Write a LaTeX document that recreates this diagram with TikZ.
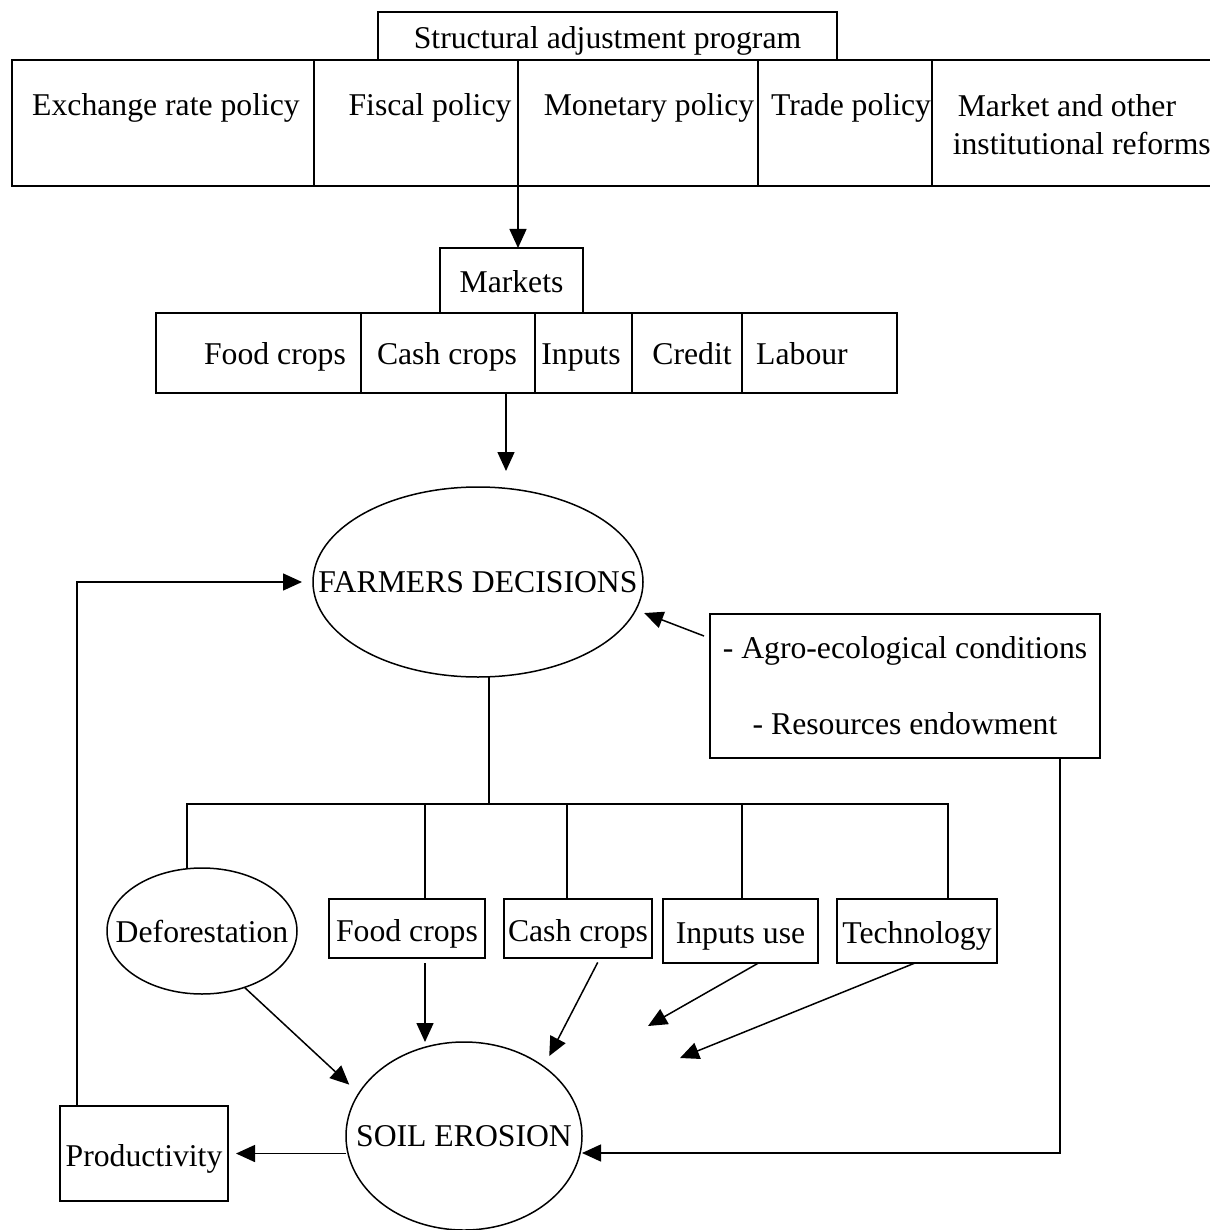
\documentclass[tikz,border=0pt]{standalone}
\usepackage{fontspec}
\setmainfont{Liberation Serif}
\usetikzlibrary{shapes.geometric, arrows.meta}

\tikzset{
  frame/.style={draw, rectangle, inner sep=0pt, outer sep=0pt, text height=29pt, text depth=4pt},
  oval/.style={draw, ellipse, inner sep=0pt, outer sep=0pt},
  txt/.style={inner sep=0pt, text height=29pt, text depth=4pt},
  arr/.style={-{Triangle[length=19pt,width=17pt]}},
}

\begin{document}
\begin{tikzpicture}[x=1pt,y=-1pt,line width=1.5pt,font=\fontsize{31.7}{38}\selectfont]
\useasboundingbox (0,0) rectangle (1209,1230);
% policy row
\node[frame, minimum width=459, minimum height=48] (sap) at (607.5,36) {Structural adjustment program};
\node[frame, minimum width=302, minimum height=126] (exr) at (163,123) {};
\node[frame, minimum width=204, minimum height=126] (fis) at (416,123) {};
\node[frame, minimum width=240, minimum height=126] (mon) at (638,123) {};
\node[frame, minimum width=174, minimum height=126] (trd) at (845,123) {};
\node[frame, minimum width=300, minimum height=126] (mkr) at (1082,123) {};
\node[txt] (exrt) at (166,103.5) {Exchange rate policy};
\node[txt] (fist) at (430,103.5) {Fiscal policy};
\node[txt] (mont) at (649,103.5) {Monetary policy};
\node[txt] (trdt) at (851,103.5) {Trade policy};
\node[inner sep=0pt, anchor=west, align=left] (mkrt) at (952,125) {\hspace*{5pt}Market and other\\institutional reforms};
% markets row
\node[frame, minimum width=143, minimum height=65] (mkt) at (511.5,280.5) {Markets};
\node[frame, minimum width=205, minimum height=80] (mfood) at (258.5,353) {};
\node[frame, minimum width=174, minimum height=80] (mcash) at (448,353) {};
\node[frame, minimum width=97, minimum height=80] (minp) at (583.5,353) {};
\node[frame, minimum width=110, minimum height=80] (mcred) at (687,353) {};
\node[frame, minimum width=155, minimum height=80] (mlab) at (819.5,353) {};
\node[txt] (mfoodt) at (275,351.5) {Food crops};
\node[txt] (mcasht) at (447,351.5) {Cash crops};
\node[txt] (minpt) at (581,351.5) {Inputs};
\node[txt] (mcredt) at (692,351.5) {Credit};
\node[txt] (mlabt) at (802,351.5) {Labour};
\draw[arr] (fis.south east) -- (fis.south east |- mkt.north);
\coordinate (farmtop) at (506,471);
\draw[arr] (mcash.south -| farmtop) -- (farmtop);
% farmers decisions
\node[oval, minimum width=330, minimum height=190, label=center:FARMERS DECISIONS] (fd) at (478,582) {};
\node[draw, inner sep=0pt, outer sep=0pt, minimum width=390, minimum height=144, align=center] (agro) at (905,686) {- Agro-ecological conditions\\[38pt]- Resources endowment};
\draw[arr, shorten >=9pt] ([xshift=-6pt,yshift=50pt]agro.west) -- (fd.-10);
% decisions
\node[oval, minimum width=190, minimum height=126, label=center:Deforestation] (defo) at (202,931) {};
\node[frame, minimum width=156, minimum height=59] (food) at (407,928.5) {Food crops};
\node[frame, minimum width=148, minimum height=59] (cash) at (578,928.5) {Cash crops};
\node[frame, minimum width=155, minimum height=64] (inp) at (740.5,931) {Inputs use};
\node[frame, minimum width=160, minimum height=64] (tech) at (917,931) {Technology};
\coordinate (fork) at (489,804);
\coordinate (bdef) at (187,804);
\coordinate (bfood) at (425,804);
\coordinate (bcash) at (567,804);
\coordinate (binp) at (742,804);
\coordinate (btech) at (948,804);
\draw (fd.south -| fork) -- (fork);
\draw (bdef |- defo.north) -- (bdef) -- (btech) -- (btech |- tech.north);
\draw (bfood) -- (bfood |- food.north);
\draw (bcash) -- (bcash |- cash.north);
\draw (binp) -- (binp |- inp.north);
% soil erosion
\node[oval, minimum width=236, minimum height=188, label=center:SOIL EROSION] (soil) at (464,1136) {};
\node[frame, minimum width=168, minimum height=95] (prod) at (144,1153.5) {Productivity};
\draw[arr, shorten >=13pt] (defo.-53) -- (soil.158);
\draw[arr, shorten <=5pt] (bfood |- food.south) -- (bfood |- soil.north);
\draw[arr, shorten <=5pt, shorten >=12pt] ([xshift=22pt]cash.south) -- (soil.41);
\coordinate (inpend) at (648,1026);
\draw[arr] ([xshift=18pt]inp.south) -- (inpend);
\coordinate (techend) at (680,1058);
\draw[arr] ([xshift=-2pt]tech.south) -- (techend);
\coordinate (rloop) at (1060,1153);
\draw[arr] (agro.south -| rloop) -- (rloop) -- (soil.east |- rloop);
\draw[arr, shorten >=8pt] (soil.west |- prod.east) -- (prod.east);
\coordinate (lloop) at (77,582);
\draw[arr, shorten >=11pt] (prod.north -| lloop) -- (lloop) -- (fd.west);
\end{tikzpicture}
\end{document}
